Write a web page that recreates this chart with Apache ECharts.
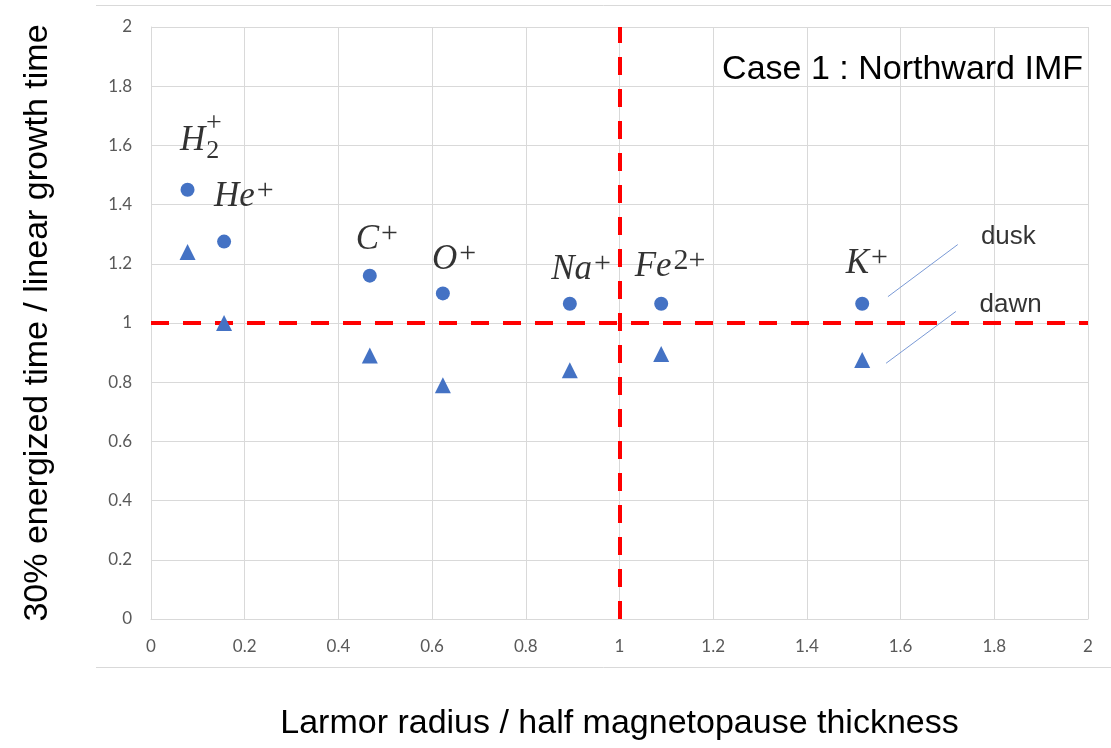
<!DOCTYPE html>
<html>
<head>
<meta charset="utf-8">
<script src="https://cdn.jsdelivr.net/npm/echarts@6/dist/echarts.min.js"></script>
<style>
  html, body { margin: 0; padding: 0; background: #fff; }
  #chart { width: 1111px; height: 748px; }
</style>
</head>
<body>
<div id="chart"></div>
<script>
// ===== Case 1 : Northward IMF — energized time vs Larmor radius =====

const FONT = 'Lato, "Liberation Sans", sans-serif';
const SANS = '"Liberation Sans", Arial, sans-serif';
const MATH = '"Liberation Serif", "DejaVu Serif", serif';
const BLUE = '#4472c4';
const GRIDC = '#d9d9d9';

// species positions (x = Larmor radius / half thickness)
const ionX     = [0.078, 0.156, 0.467, 0.623, 0.894, 1.089, 1.518];
const duskY    = [1.45, 1.275, 1.16, 1.10, 1.065, 1.065, 1.065];
const dawnY    = [1.24, 1.00, 0.89, 0.79, 0.84, 0.895, 0.875];

// ion labels: rich text and where they sit (data coords)
const ionLabels = ['{m|H}{sb|2}', '{m|He}{sp|+}', '{m|C}{sp|+}', '{m|O}{sp|+}', '{m|Na}{sp|+}', '{m|Fe}{sp|2+}', '{m|K}{sp|+}'];
const labelX    = [0.104, 0.198, 0.482, 0.647, 0.918, 1.108, 1.528];
const labelY    = [1.615, 1.425, 1.280, 1.212, 1.180, 1.190, 1.200];
// the stacked "+" of H2+
const h2PlusX = 0.134, h2PlusY = 1.672;

// dusk / dawn leader lines
const duskLead = [[1.573, 1.089], [1.722, 1.265]];
const dawnLead = [[1.569, 0.864], [1.718, 1.039]];
const legendText = ['dusk', 'dawn'];
const legendX = [1.83, 1.835];
const legendY = [1.29, 1.063];

const xTicks = { min: 0, max: 2, interval: 0.2 };
const yTicks = { min: 0, max: 2, interval: 0.2 };

function axisBase(t) {
  return {
    type: 'value', min: t.min, max: t.max, interval: t.interval,
    axisLine: { show: true, lineStyle: { color: GRIDC, width: 1 } },
    axisTick: { show: false },
    splitLine: { show: true, lineStyle: { color: GRIDC, width: 1 } },
    axisLabel: { color: '#595959', fontFamily: FONT, fontSize: 17, margin: 19,
      formatter: v => +v.toFixed(1) + '' },
    nameLocation: 'middle',
    nameTextStyle: { color: '#000', fontFamily: SANS, fontSize: 34 }
  };
}

const richStyle = {
  m:  { fontFamily: MATH, fontStyle: 'italic', fontSize: 35, color: '#000' },
  sp: { fontFamily: MATH, fontSize: 30, color: '#000', verticalAlign: 'top', padding: [0, 0, 12, 2] },
  sb: { fontFamily: MATH, fontSize: 26, color: '#000', padding: [20, 0, 0, 1] }
};

const chart = echarts.init(document.getElementById('chart'), null, { renderer: 'canvas' });

chart.setOption({
  backgroundColor: '#fff',
  animation: false,
  title: {
    text: 'Case 1 : Northward IMF',
    right: 23, top: 48,
    textStyle: { color: '#000', fontFamily: SANS, fontSize: 34, fontWeight: 'normal' }
  },
  grid: { left: 151, right: 23, top: 27, bottom: 129 },
  xAxis: Object.assign(axisBase(xTicks), {
    name: 'Larmor radius / half magnetopause thickness', nameGap: 88
  }),
  yAxis: Object.assign(axisBase(yTicks), {
    name: '30% energized time / linear growth time', nameGap: 96
  }),
  graphic: [
    { type: 'line', shape: { x1: 96, y1: 5.5, x2: 1111, y2: 5.5 }, style: { stroke: GRIDC, lineWidth: 1 } },
    { type: 'line', shape: { x1: 96, y1: 667.5, x2: 1111, y2: 667.5 }, style: { stroke: GRIDC, lineWidth: 1 } }
  ],
  series: [
    {
      name: 'dusk', type: 'scatter', symbol: 'circle', symbolSize: 14,
      itemStyle: { color: BLUE, opacity: 1 },
      data: ionX.map((x, i) => [x, duskY[i]]),
      z: 5,
      markLine: {
        silent: true, symbol: 'none', animation: false,
        label: { show: false },
        lineStyle: { color: '#ff0000', width: 4, type: [18, 14] },
        data: [{ xAxis: 1 }, { yAxis: 1 }]
      }
    },
    {
      name: 'dawn', type: 'scatter', symbol: 'triangle', symbolSize: 16,
      itemStyle: { color: BLUE, opacity: 1 },
      data: ionX.map((x, i) => [x, dawnY[i]]),
      z: 6,
      markLine: {
        silent: true, symbol: 'none', animation: false,
        label: { show: false },
        lineStyle: { color: '#7a9ad6', width: 1, type: 'solid' },
        data: [
          [{ coord: duskLead[0] }, { coord: duskLead[1] }],
          [{ coord: dawnLead[0] }, { coord: dawnLead[1] }]
        ]
      }
    },
    {
      name: 'ionLabels', type: 'scatter', symbolSize: 0, silent: true,
      data: labelX.map((x, i) => ({ value: [x, labelY[i]], label: { formatter: ionLabels[i] } }))
        .concat([{ value: [h2PlusX, h2PlusY], label: { formatter: '{p|+}', rich: { p: { fontFamily: MATH, fontSize: 28, color: '#000' } } } }]),
      label: { show: true, position: 'inside', rich: richStyle }
    },
    {
      name: 'legendText', type: 'scatter', symbolSize: 0, silent: true,
      data: legendX.map((x, i) => ({ value: [x, legendY[i]], label: { formatter: legendText[i] } })),
      label: { show: true, position: 'inside', color: '#000', fontFamily: SANS, fontSize: 26 }
    }
  ]
});
</script>
</body>
</html>
